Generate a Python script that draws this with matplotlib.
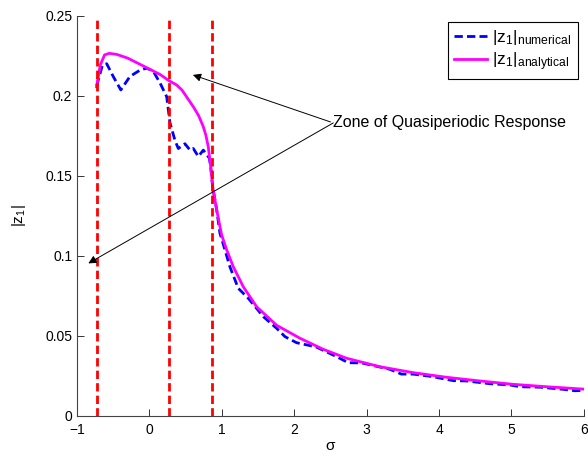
import matplotlib
matplotlib.use("Agg")
import matplotlib.pyplot as plt

plt.rcParams["font.family"] = ["Liberation Sans", "DejaVu Sans"]
plt.rcParams["mathtext.default"] = "regular"

# analytical response |z1|
sigma_an = [-0.73, -0.68, -0.62, -0.554, -0.45, -0.3, -0.085, 0.146, 0.266, 0.376,
            0.45, 0.606, 0.68, 0.744, 0.78, 0.813, 0.846, 0.873, 0.929, 0.997,
            1.067, 1.158, 1.296, 1.48, 1.757, 2.079, 2.4, 2.723, 3.183, 3.643,
            4.104, 4.564, 5.024, 5.485, 6.0]
z1_an = [0.2056, 0.219, 0.2255, 0.2265, 0.2258, 0.2235, 0.2186, 0.2133, 0.2095, 0.2067,
         0.2035, 0.1931, 0.1875, 0.1806, 0.1752, 0.168, 0.1556, 0.1431, 0.1286, 0.113,
         0.1036, 0.0931, 0.0806, 0.0681, 0.0565, 0.0484, 0.0415, 0.0359, 0.0306, 0.0269,
         0.024, 0.0217, 0.0196, 0.0181, 0.0166]

# numerical response |z1|
sigma_num = [-0.73, -0.65, -0.59, -0.5, -0.395, -0.27, -0.13, -0.04, 0.05, 0.146,
             0.238, 0.284, 0.353, 0.399, 0.49, 0.56, 0.606, 0.675, 0.744, 0.827,
             0.846, 0.873, 0.929, 0.974, 1.043, 1.112, 1.227, 1.365, 1.573, 1.757,
             1.872, 2.033, 2.3, 2.585, 2.746, 2.93, 3.32, 3.48, 3.64, 3.9,
             4.196, 4.38, 4.7, 4.98, 5.12, 5.4, 5.71, 5.876, 6.0]
z1_num = [0.206, 0.219, 0.22, 0.212, 0.2036, 0.212, 0.216, 0.2172, 0.2155, 0.208,
          0.1994, 0.183, 0.172, 0.167, 0.17, 0.166, 0.167, 0.162, 0.166, 0.161,
          0.1556, 0.1431, 0.1286, 0.114, 0.1036, 0.093, 0.0796, 0.0734, 0.0619, 0.0546,
          0.0494, 0.0456, 0.043, 0.0369, 0.0331, 0.033, 0.029, 0.026, 0.026, 0.0245,
          0.0219, 0.0217, 0.02, 0.0192, 0.0181, 0.0178, 0.0165, 0.0156, 0.0158]

# zone boundaries
zone_lines = [-0.73, 0.27, 0.86]

xticks = [-1, 0, 1, 2, 3, 4, 5, 6]
yticks = [0, 0.05, 0.1, 0.15, 0.2, 0.25]
ytick_labels = ["0", "0.05", "0.1", "0.15", "0.2", "0.25"]

fig = plt.figure(figsize=(5.88, 4.57), dpi=100)
ax = fig.add_axes([0.131, 0.0904, 0.862, 0.8752])

ax.plot(sigma_num, z1_num, color="blue", lw=2, dashes=(3, 1.5),
        label=r"$|z_1|_{numerical}$")
ax.plot(sigma_an, z1_an, color="magenta", lw=2, label=r"$|z_1|_{analytical}$")
for xv in zone_lines:
    ax.axvline(xv, color="red", lw=2, dashes=(3, 1.5))

arrow = dict(arrowstyle="-|>", color="black", lw=0.7, shrinkA=0, shrinkB=0,
             mutation_scale=12, relpos=(0, 0.5))
ax.annotate("Zone of Quasiperiodic Response", xy=(0.60, 0.213), xytext=(2.539, 0.183),
            va="center", ha="left", fontsize=11.5, arrowprops=arrow)
ax.annotate("", xy=(-0.844, 0.0952), xytext=(2.539, 0.183), arrowprops=arrow)

ax.set_xlim(-1, 6)
ax.set_ylim(0, 0.25)
ax.set_xticks(xticks)
ax.set_yticks(yticks)
ax.set_yticklabels(ytick_labels)
ax.tick_params(direction="in", length=5, labelsize=10, width=0.7, colors="#333333",
               labelcolor="black")
ax.tick_params(axis="x", pad=5)
for s in ["top", "right"]:
    ax.spines[s].set_visible(False)
for s in ["left", "bottom"]:
    ax.spines[s].set_linewidth(0.8)
    ax.spines[s].set_color("#444444")

ax.set_xlabel("σ", fontsize=11, labelpad=2)
ax.set_ylabel(r"$|z_1|$", fontsize=11, labelpad=12)

leg = ax.legend(loc="upper right", bbox_to_anchor=(0.988, 0.984), fontsize=12.5,
                fancybox=False, framealpha=1, edgecolor="black", handlelength=1.9,
                handletextpad=0.3, borderaxespad=0, borderpad=0.35, labelspacing=0.2)
leg.get_frame().set_linewidth(0.8)

fig.savefig("out.png", dpi=100)
